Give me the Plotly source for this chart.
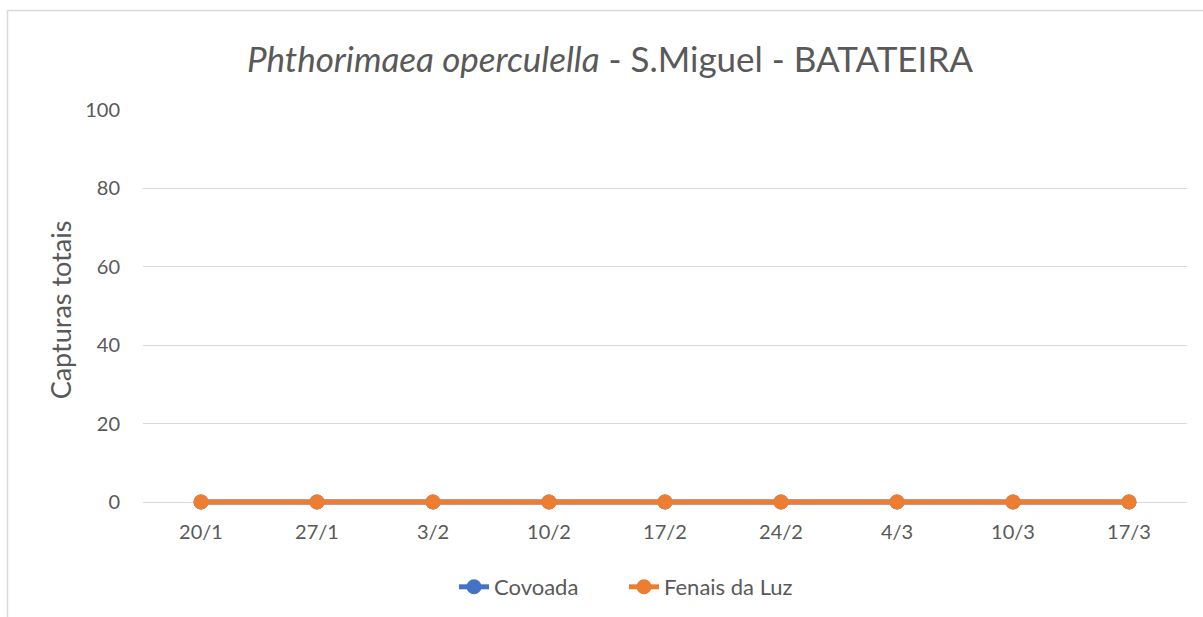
import plotly.graph_objects as go

categories = ["20/1", "27/1", "3/2", "10/2", "17/2", "24/2", "4/3", "10/3", "17/3"]
covoada = [0, 0, 0, 0, 0, 0, 0, 0, 0]
fenais = [0, 0, 0, 0, 0, 0, 0, 0, 0]
y_max = 100
y_step = 20

W, H = 1203, 617
L, R, T, B0 = 143, 1187, 110, 502   # B0 = pixel row of value 0
EXTRA = 8                            # extend plot area below 0 so the line is not clipped
B = B0 + EXTRA
y_min = -y_max * EXTRA / (B0 - T)
FONT = "Lato"
GREY = "#595959"

fig = go.Figure()
fig.add_trace(go.Scatter(x=categories, y=covoada, mode="lines+markers", name="Covoada",
                         line=dict(color="#4472C4", width=5),
                         marker=dict(size=15, color="#4472C4"), cliponaxis=False))
fig.add_trace(go.Scatter(x=categories, y=fenais, mode="lines+markers", name="Fenais da Luz",
                         line=dict(color="#ED7D31", width=5),
                         marker=dict(size=15, color="#ED7D31"), cliponaxis=False))

def px_x(p):
    return (p - L) / (R - L)

def px_y(p):
    return (B - p) / (B - T)

fig.update_layout(
    width=W, height=H,
    margin=dict(l=L, r=W - R, t=T, b=H - B, autoexpand=False),
    paper_bgcolor="white", plot_bgcolor="white",
    font=dict(family=FONT, color=GREY, size=20),
    title=dict(text="<i>Phthorimaea operculella</i> - S.Miguel - BATATEIRA",
               x=610 / W, xref="container", xanchor="center",
               y=1 - 60 / H, yref="container", yanchor="middle",
               font=dict(family=FONT, size=35, color=GREY)),
    xaxis=dict(type="category", range=[-0.5, len(categories) - 0.5], automargin=False,
               showgrid=False, zeroline=False, showline=False, ticks="",
               tickfont=dict(size=20, color=GREY), ticklabelstandoff=8),
    yaxis=dict(range=[y_min, y_max], tick0=0, dtick=y_step, showgrid=True, automargin=False,
               gridcolor="#D9D9D9", gridwidth=1.3,
               zeroline=False, showline=False, ticks="",
               tickfont=dict(size=20, color=GREY), ticklabelstandoff=22,
               title=dict(text="Capturas totais", font=dict(size=27, color=GREY), standoff=5)),
    legend=dict(orientation="h", x=624 / W, xref="container", xanchor="center",
                y=1 - 587 / H, yref="container", yanchor="middle",
                font=dict(size=22, color=GREY), traceorder="normal", entrywidth=125),
    showlegend=True,
)

# chart frame (light grey) starting at top-left corner
fig.add_shape(type="line", xref="paper", yref="paper",
              x0=px_x(7.5), x1=px_x(W + 5), y0=px_y(10.5), y1=px_y(10.5),
              line=dict(color="#D9D9D9", width=1.5))
fig.add_shape(type="line", xref="paper", yref="paper",
              x0=px_x(7.5), x1=px_x(7.5), y0=px_y(10.5), y1=px_y(H + 5),
              line=dict(color="#D9D9D9", width=1.5))

fig.write_html("out.html", config={"displayModeBar": False},
               post_script="document.body.style.margin='0px';")
